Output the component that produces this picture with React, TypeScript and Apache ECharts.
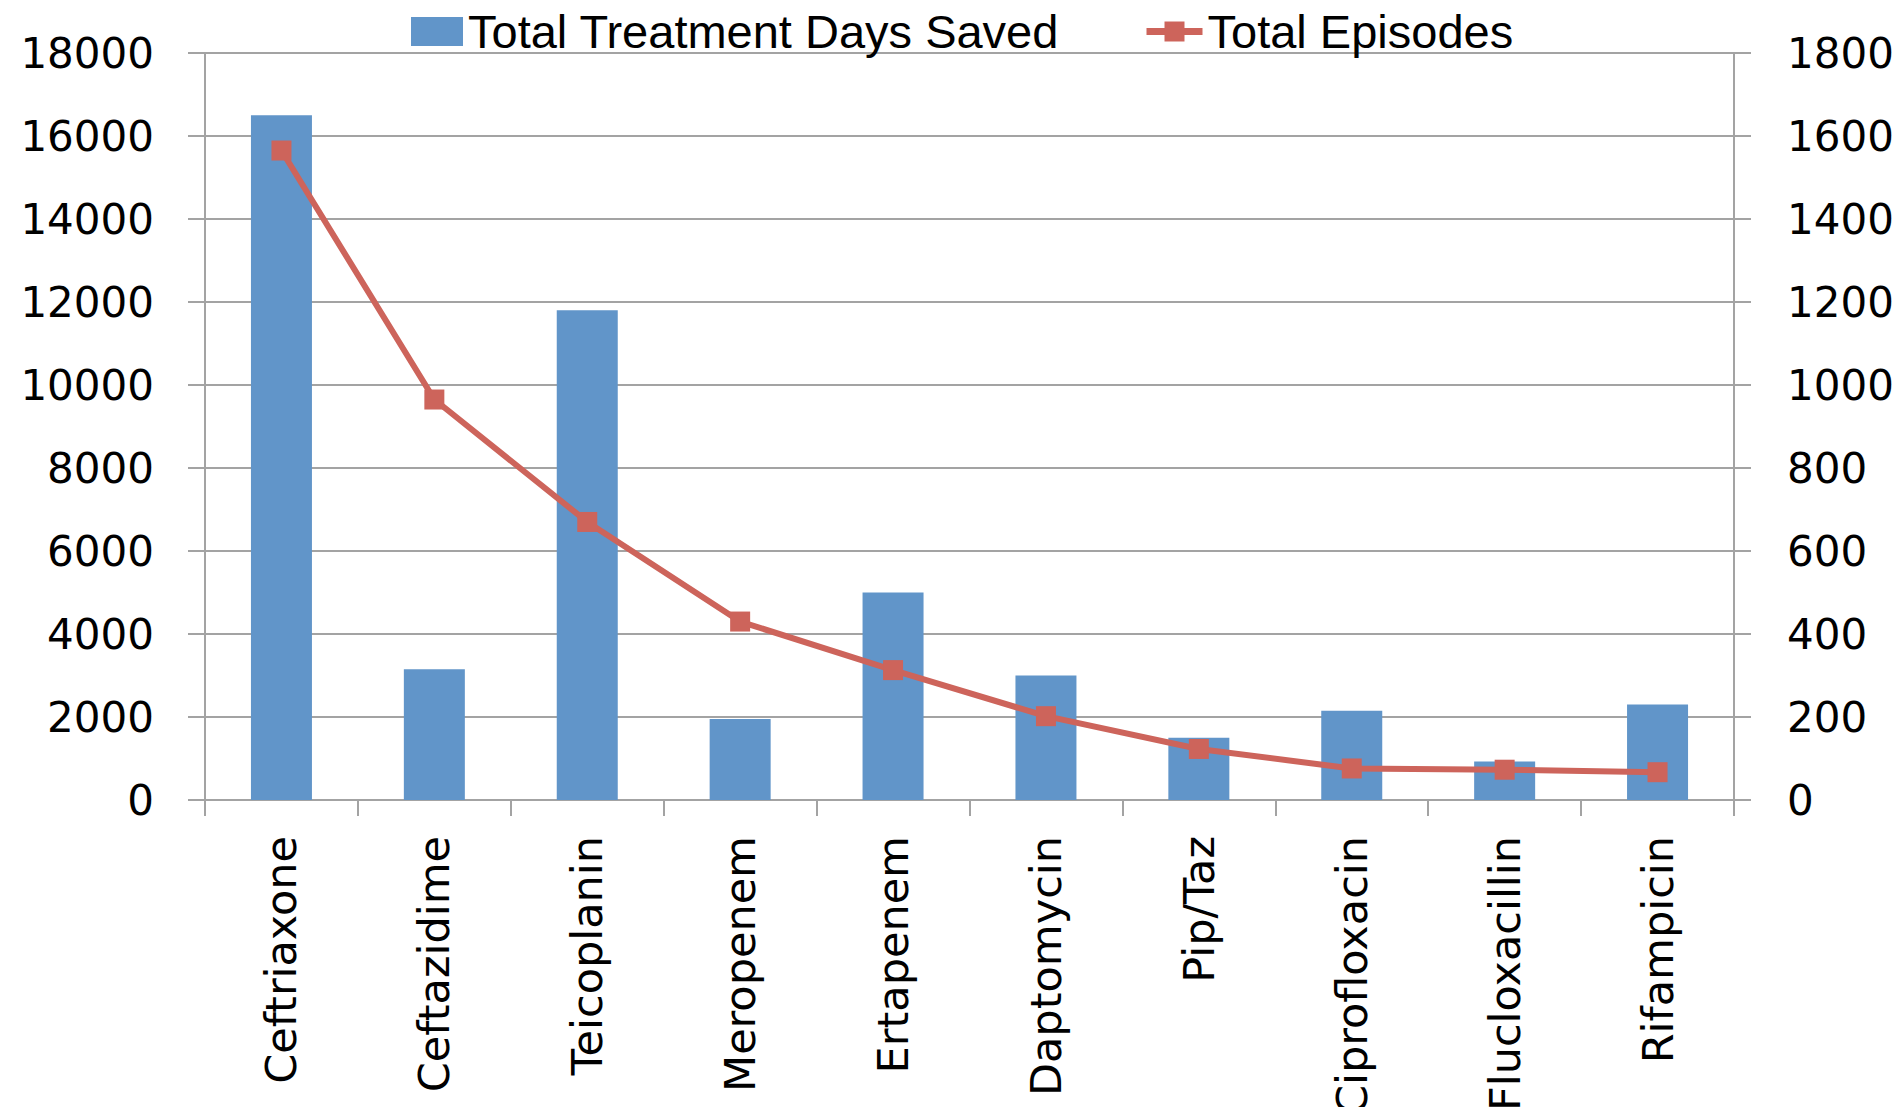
import React, { useEffect, useRef } from "react";
import * as echarts from "echarts";

const categories = [
  "Ceftriaxone",
  "Ceftazidime",
  "Teicoplanin",
  "Meropenem",
  "Ertapenem",
  "Daptomycin",
  "Pip/Taz",
  "Ciprofloxacin",
  "Flucloxacillin",
  "Rifampicin",
];
const treatmentDaysSaved = [16500, 3150, 11800, 1950, 5000, 3000, 1500, 2150, 930, 2300];
const totalEpisodes = [1565, 965, 670, 430, 313, 202, 123, 76, 73, 67];
const leftTicks = { min: 0, max: 18000, interval: 2000 };
const rightTicks = { min: 0, max: 1800, interval: 200 };

const AXIS_GRAY = "#A3A3A3";
const BLUE = "#6195C9";
const RED = "#CD645B";
const TICK_FONT = "DejaVu Sans";
const LEGEND_FONT = "Liberation Sans";

export default function App() {
  const ref = useRef<HTMLDivElement>(null);

  useEffect(() => {
    if (!ref.current) return;
    const chart = echarts.init(ref.current, null, { renderer: "svg" });
    const plain = (v: number) => String(v);
    chart.setOption({
      animation: false,
      backgroundColor: "#ffffff",
      legend: [
        {
          data: [{ name: "Total Treatment Days Saved", icon: "rect" }],
          left: 406,
          top: 3,
          itemWidth: 52,
          itemHeight: 29,
          itemGap: 0,
          textStyle: { fontFamily: LEGEND_FONT, fontSize: 47, color: "#000" },
        },
        {
          data: ["Total Episodes"],
          left: 1138,
          top: 3,
          itemWidth: 56,
          itemHeight: 25,
          itemGap: 0,
          lineStyle: { width: 7 },
          textStyle: { fontFamily: LEGEND_FONT, fontSize: 47, color: "#000" },
        },
      ],
      grid: {
        left: 205,
        right: 167,
        top: 53,
        bottom: 307,
        containLabel: false,
        outerBoundsMode: "none",
      },
      xAxis: {
        type: "category",
        data: categories,
        boundaryGap: true,
        axisLine: { show: true, lineStyle: { color: AXIS_GRAY, width: 2 } },
        axisTick: { show: true, length: 16, lineStyle: { color: AXIS_GRAY, width: 2 } },
        axisLabel: {
          rotate: 90,
          margin: 36,
          interval: 0,
          fontFamily: TICK_FONT,
          fontSize: 43,
          color: "#000",
        },
        splitLine: { show: false },
      },
      yAxis: [
        {
          type: "value",
          min: leftTicks.min,
          max: leftTicks.max,
          interval: leftTicks.interval,
          position: "left",
          axisLine: { show: true, lineStyle: { color: AXIS_GRAY, width: 2 } },
          axisTick: { show: true, length: 17, lineStyle: { color: AXIS_GRAY, width: 2 } },
          axisLabel: { margin: 51, fontFamily: TICK_FONT, fontSize: 42, color: "#000", formatter: plain },
          splitLine: { show: true, lineStyle: { color: AXIS_GRAY, width: 2 } },
        },
        {
          type: "value",
          min: rightTicks.min,
          max: rightTicks.max,
          interval: rightTicks.interval,
          position: "right",
          axisLine: { show: true, lineStyle: { color: AXIS_GRAY, width: 2 } },
          axisTick: { show: true, length: 17, lineStyle: { color: AXIS_GRAY, width: 2 } },
          axisLabel: { margin: 53, fontFamily: TICK_FONT, fontSize: 42, color: "#000", formatter: plain },
          splitLine: { show: false },
        },
      ],
      series: [
        {
          name: "Total Treatment Days Saved",
          type: "bar",
          yAxisIndex: 0,
          data: treatmentDaysSaved,
          barWidth: 61,
          itemStyle: { color: BLUE },
        },
        {
          name: "Total Episodes",
          type: "line",
          yAxisIndex: 1,
          data: totalEpisodes,
          symbol: "rect",
          symbolSize: 20,
          lineStyle: { color: RED, width: 6 },
          itemStyle: { color: RED },
        },
      ],
    });
    return () => chart.dispose();
  }, []);

  return (
    <div
      ref={ref}
      style={{ position: "absolute", left: 0, top: 0, width: 1901, height: 1107 }}
    />
  );
}
